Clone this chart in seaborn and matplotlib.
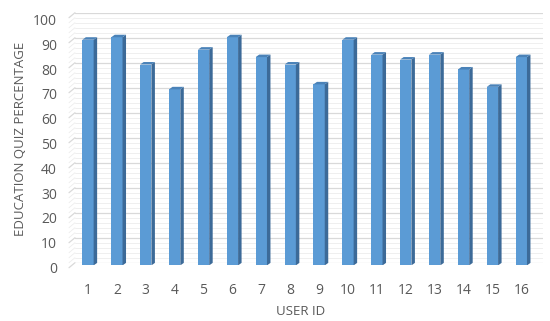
import matplotlib
matplotlib.use("Agg")
import matplotlib.pyplot as plt
import seaborn as sns
import pandas as pd
from matplotlib.patches import Polygon
from matplotlib.transforms import ScaledTranslation

# ---- data ----
user_ids = [str(i) for i in range(1, 17)]
scores = [91, 92, 81, 71, 87, 92, 84, 81, 73, 91, 85, 83, 85, 79, 72, 84]
y_ticks = [0, 10, 20, 30, 40, 50, 60, 70, 80, 90, 100]
x_label = "USER ID"
y_label = "EDUCATION QUIZ PERCENTAGE"

sns.set_theme(style="white")
plt.rcParams['font.family'] = ['Open Sans', 'DejaVu Sans']

W, H = 550, 321
fig = plt.figure(figsize=(W / 100, H / 100), dpi=100)
ax_l, ax_w = 75, 468
XMIN, XMAX = -0.45, 15.75

# back wall (gridlines), slightly higher than the front plane
wall_b, wall_h = 321 - 262.7, 250
wall = fig.add_axes([ax_l / W, wall_b / H, ax_w / W, wall_h / H], zorder=0)
wall.set_xlim(XMIN, XMAX)
wall.set_ylim(0, 100)
wall.axis("off")
wpx_y = 100 / wall_h
for yv in range(0, 101, 2):
    major = yv % 10 == 0
    col = "#D9D9D9" if major else "#EDEDED"
    lw = 0.9 if major else 0.6
    wall.axhline(yv, color=col, lw=lw)
    wall.plot([0, -6 / ax_w], [yv, yv - 5 * wpx_y], transform=wall.get_yaxis_transform(),
              color=col, lw=lw, clip_on=False)

# front plane: bars
ax_b, ax_h = 321 - 265.4, 248
ax = fig.add_axes([ax_l / W, ax_b / H, ax_w / W, ax_h / H], zorder=1)
ax.patch.set_alpha(0)

df = pd.DataFrame({"user": user_ids, "score": scores})
sns.barplot(data=df, x="user", y="score", color="#5B9BD5", width=0.39,
            saturation=1, ax=ax, zorder=3, linewidth=0)

ax.set_ylim(0, 100)
ax.set_xlim(XMIN, XMAX)
ax.grid(False)

px_x = (XMAX - XMIN) / ax_w
px_y = 100 / ax_h
dx, dy = 3.5 * px_x, 2.5 * px_y
for p in list(ax.patches):
    x, w, h = p.get_x(), p.get_width(), p.get_height()
    x1 = x + w
    side = Polygon([(x1, 0), (x1 + dx, dy), (x1 + dx, h + dy), (x1, h)],
                   closed=True, facecolor="#3C6A98", edgecolor="none", zorder=3)
    top = Polygon([(x, h), (x1, h), (x1 + dx, h + dy), (x + dx, h + dy)],
                  closed=True, facecolor="#4A82B8", edgecolor="none", zorder=3)
    ax.add_patch(side)
    ax.add_patch(top)

for s in ax.spines.values():
    s.set_visible(False)

ax.set_yticks(y_ticks)
ax.set_yticklabels([str(v) for v in y_ticks])
ax.tick_params(axis="y", length=0, pad=13, labelsize=10, labelcolor="#595959")
ax.tick_params(axis="x", length=0, pad=13, labelsize=10, labelcolor="#595959")
off = ScaledTranslation(0, -1.5 / 72, fig.dpi_scale_trans)
for lab in ax.get_yticklabels():
    lab.set_transform(lab.get_transform() + off)

ax.set_xlabel(x_label, fontsize=9.5, color="#595959")
ax.set_ylabel(y_label, fontsize=9.5, color="#595959")
front_bottom_px = 265.4
ax.xaxis.set_label_coords((301 - ax_l) / ax_w, (front_bottom_px - 305) / ax_h)
ax.yaxis.set_label_coords((27 - ax_l) / ax_w, 0.51)

fig.savefig("out.png", dpi=100)
